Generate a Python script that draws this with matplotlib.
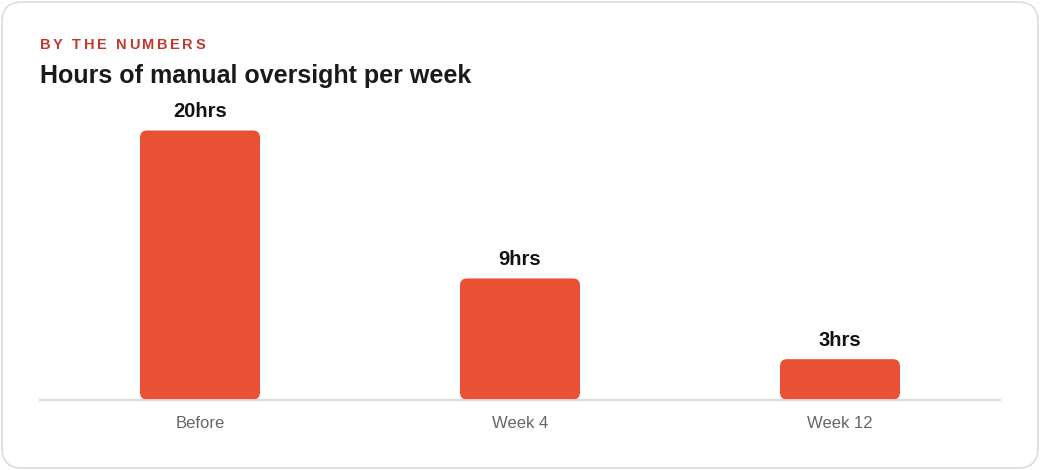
import matplotlib.pyplot as plt
from matplotlib.patches import FancyBboxPatch

plt.rcParams['font.family'] = ['Liberation Sans', 'DejaVu Sans']

categories = ["Before", "Week 4", "Week 12"]
hours = [20, 9, 3]
labels = ["20hrs", "9hrs", "3hrs"]

bar_color = "#E95135"
W, H = 1040, 470

fig = plt.figure(figsize=(W / 100, H / 100), dpi=100)
fig.patch.set_facecolor("white")

# card border
card = FancyBboxPatch((2, 2), W - 4, H - 4, boxstyle="round,pad=0,rounding_size=20",
                      transform=None, facecolor="white", edgecolor="#dcdcdc", lw=1.2,
                      zorder=-5)
fig.patches.append(card)

# axes placed in pixel terms: baseline y=399.5, x from 40 to 1000
px_per_unit = 13.45
ymax = 22
top_px = 399.5 - ymax * px_per_unit
ax = fig.add_axes([40 / W, (H - 399.5) / H, 960 / W, (399.5 - top_px) / H])
ax.set_xlim(-0.5, 2.5)
ax.set_ylim(0, ymax)
ax.patch.set_alpha(0)

bw = 0.375
for i, (v, lab) in enumerate(zip(hours, labels)):
    ax.add_patch(FancyBboxPatch((i - bw / 2, 0), bw, v,
                                boxstyle="round,pad=0,rounding_size=0.022",
                                mutation_aspect=320 / px_per_unit,
                                facecolor=bar_color, edgecolor="none"))
    ax.annotate(lab, (i, v), xytext=(0, 6.5), textcoords="offset points",
                ha="center", va="bottom", fontsize=14.5, fontweight="bold", color="#111111")

ax.set_xticks(range(len(categories)))
ax.set_xticklabels(categories, fontsize=12, color="#666666")
ax.tick_params(axis="x", length=0, pad=12)
ax.set_yticks([])
for s in ["top", "left", "right"]:
    ax.spines[s].set_visible(False)
ax.spines["bottom"].set_color("#d9d6d3")
ax.spines["bottom"].set_linewidth(1.3)

# kicker with letter spacing
fig.canvas.draw()
renderer = fig.canvas.get_renderer()
x = 40
for ch in "BY THE NUMBERS":
    t = fig.text(x / W, 1 - 45 / H, ch, fontsize=10.5, fontweight="bold",
                 color="#C0392B", va="center", ha="left")
    w = t.get_window_extent(renderer).width if ch != " " else 4
    x += w + 2.6

fig.text(40 / W, 1 - 76.5 / H, "Hours of manual oversight per week", fontsize=18,
         fontweight="bold", color="#1a1a1a", va="center", ha="left")

fig.savefig("out.png", dpi=100, facecolor=fig.get_facecolor())
